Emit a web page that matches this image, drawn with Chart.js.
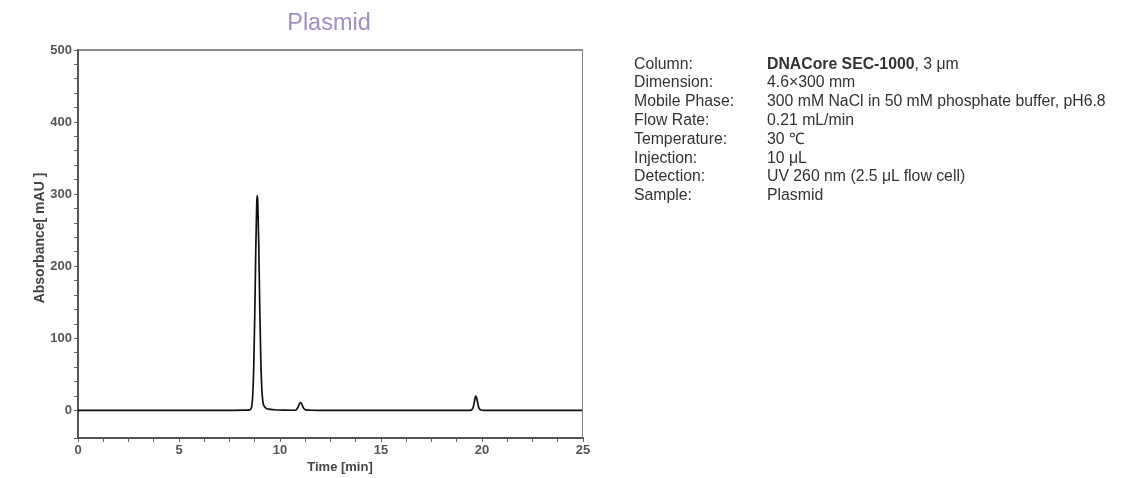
<!DOCTYPE html>
<html>
<head>
<meta charset="utf-8">
<script src="https://cdn.jsdelivr.net/npm/chart.js@4"></script>
<style>
  html, body { margin: 0; padding: 0; background: #fff; }
  body { width: 1131px; height: 478px; position: relative; overflow: hidden; font-family: "Liberation Sans", Arial, sans-serif; }
  #chart { position: absolute; left: 0; top: 0; }
  #title { position: absolute; left: 229px; width: 200px; top: 11px; text-align: center; font-size: 23.5px; line-height: 23.5px; color: #a18dc9; }
  #info { position: absolute; left: 634px; top: 54.6px; font-size: 15.8px; line-height: 18.8px; color: #333; }
  #info .row { white-space: nowrap; }
  #info .lab { display: inline-block; width: 133px; }
</style>
</head>
<body>
<canvas id="chart" width="1131" height="478"></canvas>
<div id="title">Plasmid</div>
<div id="info"></div>
<script>
// ---- data ----
const timeMin = [0, 2, 4, 6, 7.5, 8.3, 8.5, 8.55, 8.6, 8.65, 8.7, 8.75, 8.8, 8.85, 8.875, 8.9, 8.95, 9.0, 9.05, 9.1, 9.15, 9.2, 9.3, 9.45, 9.7, 10.2,
                 10.7, 10.82, 10.88, 10.94, 10.98, 11.02, 11.06, 11.1, 11.16, 11.22, 11.3, 11.5, 12, 14, 16, 18,
                 19.4, 19.5, 19.55, 19.6, 19.65, 19.69, 19.73, 19.78, 19.83, 19.88, 19.95, 20.1, 21, 23, 25];
const absorbance = [0.2, 0.3, 0.3, 0.4, 0.4, 0.6, 1, 2, 6, 21, 60, 132, 222, 289, 298, 289, 228, 140, 70, 30, 13, 7, 3.5, 2, 1.2, 0.6,
                    0.5, 1.5, 4, 8, 10.3, 11, 10, 7.5, 3.8, 1.8, 0.9, 0.5, 0.4, 0.3, 0.2, 0.2,
                    0.3, 1.2, 3.5, 9, 16.5, 20, 18, 11.5, 5.5, 2.3, 0.8, 0.3, 0.2, 0.2, 0.2];
const xLabels = [0, 5, 10, 15, 20, 25];
const yLabels = [0, 100, 200, 300, 400, 500];
const chartTitle = "Plasmid";
const xTitle = "Time [min]";
const yTitle = "Absorbance[ mAU ]";
const infoLabels = ["Column:", "Dimension:", "Mobile Phase:", "Flow Rate:", "Temperature:", "Injection:", "Detection:", "Sample:"];
const infoValues = ["<b>DNACore SEC-1000</b>, 3 μm", "4.6×300 mm", "300 mM NaCl in 50 mM phosphate buffer, pH6.8", "0.21 mL/min",
                    "30 ℃", "10 μL", "UV 260 nm (2.5 μL flow cell)", "Plasmid"];

document.getElementById('title').textContent = chartTitle;
const info = document.getElementById('info');
infoLabels.forEach((l, i) => {
  const row = document.createElement('div');
  row.className = 'row';
  row.innerHTML = '<span class="lab">' + l + '</span><span>' + infoValues[i] + '</span>';
  info.appendChild(row);
});

const points = timeMin.map((t, i) => ({ x: t, y: absorbance[i] }));
const near = (v, list) => list.some(l => Math.abs(v - l) < 1e-6);
const tickFont = { family: '"Liberation Sans", Arial, sans-serif', size: 13, weight: 'bold' };

const framePlugin = {
  id: 'frame',
  afterDraw(chart) {
    const { ctx, chartArea: a } = chart;
    ctx.save();
    ctx.strokeStyle = '#666';
    ctx.lineWidth = 1.5;
    ctx.beginPath();
    ctx.moveTo(a.left, a.top);
    ctx.lineTo(a.right, a.top);
    ctx.stroke();
    ctx.strokeStyle = '#888';
    ctx.lineWidth = 1;
    ctx.beginPath();
    ctx.moveTo(a.right - 0.5, a.top);
    ctx.lineTo(a.right - 0.5, a.bottom);
    ctx.stroke();
    // axis titles
    ctx.fillStyle = '#444';
    ctx.textAlign = 'center';
    ctx.textBaseline = 'middle';
    ctx.font = 'bold 13px "Liberation Sans", Arial, sans-serif';
    ctx.fillText(xTitle, (a.left + a.right) / 2 + 9.5, 467);
    ctx.font = 'bold 14px "Liberation Sans", Arial, sans-serif';
    ctx.translate(40, (a.top + a.bottom) / 2 - 6);
    ctx.rotate(-Math.PI / 2);
    ctx.fillText(yTitle, 0, 0);
    ctx.restore();
  }
};

new Chart(document.getElementById('chart'), {
  type: 'line',
  data: {
    datasets: [{
      data: points,
      borderColor: '#111',
      borderWidth: 1.7,
      pointRadius: 0,
      fill: false,
      cubicInterpolationMode: 'monotone'
    }]
  },
  options: {
    responsive: false,
    animation: false,
    devicePixelRatio: 1,
    layout: { padding: { left: 0, top: 50, right: 548, bottom: 0 } },
    plugins: { legend: { display: false }, tooltip: { enabled: false }, title: { display: false } },
    scales: {
      x: {
        type: 'linear', min: 0, max: 25,
        afterFit(s) { s.height = 40; },
        ticks: {
          stepSize: 1.25, autoSkip: false, maxRotation: 0, padding: 1,
          color: '#555', font: tickFont,
          callback: v => near(v, xLabels) ? String(Math.round(v)) : ''
        },
        grid: { drawOnChartArea: false, drawTicks: true, tickLength: 4, tickColor: '#666', tickWidth: 1 },
        border: { display: true, color: '#555', width: 2 }
      },
      y: {
        type: 'linear', min: -38, max: 500,
        afterFit(s) { s.width = 78; },
        ticks: {
          stepSize: 20, autoSkip: false, padding: 2,
          color: '#555', font: tickFont,
          callback: v => near(v, yLabels) ? String(Math.round(v)) : ''
        },
        grid: { drawOnChartArea: false, drawTicks: true, tickLength: 4, tickColor: '#666', tickWidth: 1 },
        border: { display: true, color: '#555', width: 2 }
      }
    }
  },
  plugins: [framePlugin]
});
</script>
</body>
</html>
